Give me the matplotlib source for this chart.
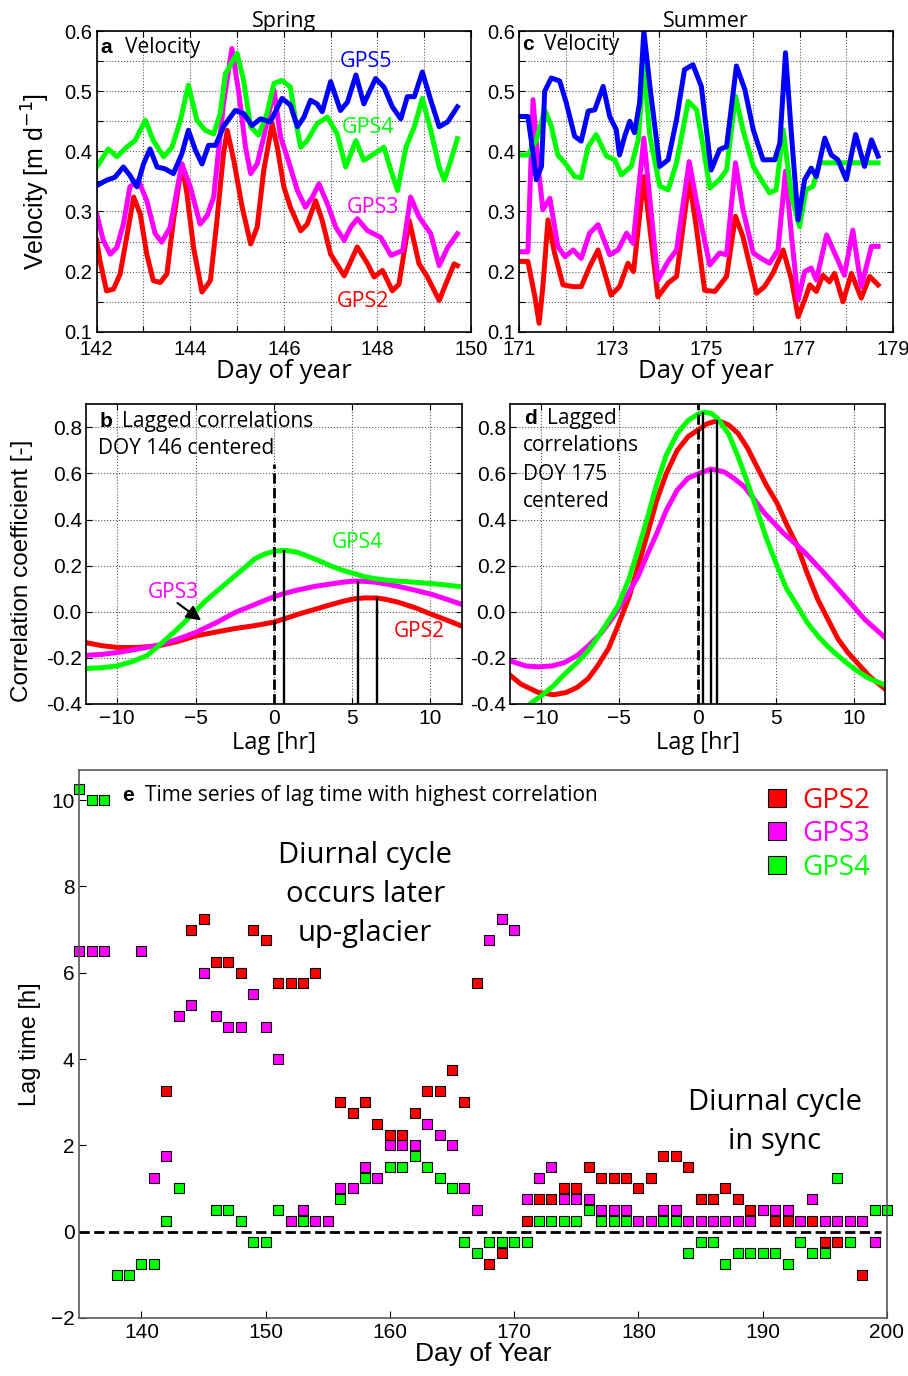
import numpy as np
import matplotlib.pyplot as plt
from matplotlib.ticker import MultipleLocator, FuncFormatter

RED, MAG, GRN, BLU = "#ff0000", "#ff00ff", "#00ff00", "#0000ff"
SANS = ["Liberation Sans", "DejaVu Sans"]
MYR = ["Open Sans", "DejaVu Sans"]

# ---- panel a: spring velocity (day, m/d) ----
a_day_gps2 = [142.0, 142.07, 142.21, 142.36, 142.5, 142.64, 142.79, 142.93, 143.07, 143.21, 143.36, 143.5,
              143.64, 143.82, 143.93, 144.07, 144.25, 144.43, 144.57, 144.71, 144.79, 144.93, 145.11, 145.29,
              145.43, 145.57, 145.75, 145.86, 146.0, 146.14, 146.36, 146.5, 146.68, 146.82, 147.0, 147.29,
              147.57, 147.79, 147.93, 148.11, 148.32, 148.46, 148.68, 148.89, 149.07, 149.32, 149.46, 149.64, 149.71]
a_vel_gps2 = [0.252, 0.218, 0.168, 0.171, 0.196, 0.257, 0.324, 0.296, 0.229, 0.185, 0.182, 0.196,
              0.285, 0.379, 0.329, 0.24, 0.166, 0.185, 0.285, 0.396, 0.435, 0.385, 0.307, 0.246,
              0.274, 0.368, 0.446, 0.407, 0.341, 0.307, 0.268, 0.279, 0.318, 0.285, 0.229, 0.193,
              0.241, 0.213, 0.191, 0.202, 0.168, 0.179, 0.285, 0.213, 0.191, 0.152, 0.179, 0.213, 0.21]
a_day_gps3 = [142.0, 142.14, 142.29, 142.43, 142.57, 142.71, 142.89, 143.07, 143.25, 143.39, 143.57, 143.82,
              144.0, 144.21, 144.36, 144.5, 144.71, 144.89, 145.04, 145.18, 145.29, 145.43, 145.57, 145.79,
              145.93, 146.07, 146.29, 146.46, 146.61, 146.75, 146.93, 147.11, 147.29, 147.43, 147.57, 147.79,
              148.07, 148.29, 148.54, 148.71, 148.89, 149.14, 149.32, 149.5, 149.71]
a_vel_gps3 = [0.296, 0.252, 0.229, 0.24, 0.279, 0.341, 0.352, 0.318, 0.263, 0.249, 0.274, 0.379,
              0.341, 0.279, 0.293, 0.324, 0.479, 0.571, 0.496, 0.407, 0.363, 0.379, 0.424, 0.502,
              0.424, 0.391, 0.335, 0.307, 0.324, 0.346, 0.313, 0.274, 0.252, 0.274, 0.288, 0.268,
              0.257, 0.227, 0.235, 0.324, 0.291, 0.263, 0.21, 0.24, 0.263]
a_day_gps4 = [142.0, 142.14, 142.25, 142.43, 142.64, 142.82, 143.04, 143.21, 143.43, 143.61, 143.79, 143.96,
              144.14, 144.32, 144.5, 144.64, 144.75, 145.0, 145.14, 145.29, 145.46, 145.64, 145.79, 145.96,
              146.14, 146.25, 146.36, 146.5, 146.71, 146.93, 147.14, 147.32, 147.54, 147.71, 147.93, 148.14,
              148.29, 148.43, 148.61, 148.79, 148.96, 149.14, 149.32, 149.43, 149.57, 149.71]
a_vel_gps4 = [0.374, 0.391, 0.404, 0.391, 0.407, 0.418, 0.452, 0.418, 0.391, 0.407, 0.452, 0.51,
              0.452, 0.435, 0.429, 0.463, 0.529, 0.563, 0.518, 0.441, 0.427, 0.463, 0.513, 0.518,
              0.507, 0.452, 0.407, 0.418, 0.446, 0.457, 0.429, 0.374, 0.418, 0.385, 0.396, 0.407,
              0.368, 0.335, 0.407, 0.441, 0.488, 0.435, 0.374, 0.352, 0.385, 0.421]
a_day_gps5 = [142.0, 142.21, 142.39, 142.57, 142.71, 142.86, 143.0, 143.14, 143.29, 143.46, 143.64, 143.82,
              143.96, 144.11, 144.25, 144.39, 144.54, 144.71, 144.96, 145.14, 145.32, 145.5, 145.71, 145.96,
              146.14, 146.29, 146.43, 146.57, 146.71, 146.82, 147.0, 147.21, 147.36, 147.54, 147.71, 147.96,
              148.14, 148.32, 148.5, 148.64, 148.79, 148.96, 149.14, 149.32, 149.5, 149.71]
a_vel_gps5 = [0.343, 0.352, 0.357, 0.374, 0.36, 0.341, 0.379, 0.404, 0.374, 0.371, 0.363, 0.396,
              0.435, 0.402, 0.379, 0.41, 0.41, 0.441, 0.468, 0.463, 0.443, 0.454, 0.449, 0.488,
              0.477, 0.441, 0.457, 0.485, 0.479, 0.466, 0.516, 0.468, 0.482, 0.527, 0.479, 0.521,
              0.507, 0.474, 0.454, 0.491, 0.491, 0.532, 0.485, 0.441, 0.449, 0.474]

# ---- panel c: summer velocity ----
c_day_gps2 = [171.0, 171.19, 171.34, 171.43, 171.51, 171.62, 171.76, 171.94, 172.16, 172.33, 172.51, 172.69,
              172.97, 173.15, 173.33, 173.45, 173.67, 173.97, 174.19, 174.37, 174.64, 174.79, 174.97, 175.19,
              175.44, 175.63, 175.79, 176.08, 176.25, 176.43, 176.65, 176.83, 176.97, 177.11, 177.22, 177.36,
              177.5, 177.64, 177.75, 177.93, 178.11, 178.32, 178.5, 178.68]
c_vel_gps2 = [0.217, 0.217, 0.158, 0.114, 0.175, 0.286, 0.231, 0.178, 0.175, 0.175, 0.208, 0.236,
              0.161, 0.175, 0.214, 0.2, 0.358, 0.158, 0.181, 0.192, 0.353, 0.275, 0.169, 0.167,
              0.192, 0.292, 0.258, 0.164, 0.175, 0.197, 0.236, 0.186, 0.125, 0.153, 0.178, 0.167,
              0.194, 0.183, 0.197, 0.15, 0.197, 0.156, 0.192, 0.178]
c_day_gps3 = [171.0, 171.19, 171.3, 171.41, 171.51, 171.66, 171.83, 171.98, 172.16, 172.33, 172.51, 172.69,
              172.94, 173.12, 173.3, 173.44, 173.67, 173.97, 174.19, 174.37, 174.64, 174.79, 175.08, 175.29,
              175.44, 175.63, 175.79, 176.01, 176.18, 176.36, 176.54, 176.7, 176.83, 176.97, 177.11, 177.25,
              177.36, 177.58, 177.75, 177.96, 178.14, 178.32, 178.54, 178.68]
c_vel_gps3 = [0.233, 0.233, 0.486, 0.375, 0.303, 0.322, 0.242, 0.225, 0.236, 0.222, 0.264, 0.278,
              0.228, 0.236, 0.264, 0.247, 0.422, 0.186, 0.217, 0.236, 0.383, 0.319, 0.211, 0.231,
              0.228, 0.381, 0.303, 0.231, 0.222, 0.214, 0.236, 0.367, 0.258, 0.153, 0.2, 0.206,
              0.186, 0.261, 0.231, 0.194, 0.269, 0.175, 0.242, 0.242]
c_day_gps4 = [171.0, 171.19, 171.37, 171.55, 171.69, 171.83, 172.01, 172.19, 172.33, 172.48, 172.65, 172.87,
              173.05, 173.19, 173.4, 173.55, 173.67, 173.8, 174.01, 174.19, 174.37, 174.62, 174.8, 174.94,
              175.08, 175.29, 175.44, 175.63, 175.79, 176.01, 176.18, 176.36, 176.5, 176.65, 176.83, 177.0,
              177.14, 177.29, 177.43, 177.58, 178.68]
c_vel_gps4 = [0.394, 0.394, 0.419, 0.469, 0.442, 0.394, 0.378, 0.358, 0.356, 0.408, 0.428, 0.392,
              0.386, 0.361, 0.375, 0.419, 0.544, 0.425, 0.342, 0.336, 0.381, 0.483, 0.469, 0.408,
              0.339, 0.353, 0.369, 0.492, 0.436, 0.375, 0.353, 0.331, 0.336, 0.436, 0.325, 0.275,
              0.336, 0.342, 0.381, 0.381, 0.381]
c_day_gps5 = [171.0, 171.19, 171.3, 171.37, 171.48, 171.55, 171.69, 171.87, 172.01, 172.19, 172.33, 172.48,
              172.62, 172.8, 172.94, 173.08, 173.15, 173.26, 173.37, 173.47, 173.58, 173.67, 173.8, 174.01,
              174.19, 174.37, 174.54, 174.72, 174.9, 175.11, 175.29, 175.44, 175.65, 175.83, 176.01, 176.22,
              176.47, 176.58, 176.7, 176.83, 176.97, 177.11, 177.25, 177.36, 177.54, 177.68, 177.82, 178.0,
              178.2, 178.39, 178.54, 178.68]
c_vel_gps5 = [0.458, 0.458, 0.397, 0.353, 0.375, 0.5, 0.522, 0.517, 0.481, 0.425, 0.417, 0.467,
              0.469, 0.508, 0.458, 0.436, 0.394, 0.425, 0.45, 0.431, 0.481, 0.6, 0.508, 0.375,
              0.386, 0.453, 0.536, 0.544, 0.508, 0.369, 0.403, 0.408, 0.542, 0.503, 0.436, 0.386,
              0.386, 0.414, 0.564, 0.425, 0.286, 0.353, 0.372, 0.358, 0.422, 0.394, 0.386, 0.353,
              0.428, 0.375, 0.419, 0.392]

# ---- panel b: lagged correlation, DOY 146 ----
b_lag_gps2 = [-12, -11, -10, -8.7, -7.4, -6.2, -5, -3.7, -2.5, -1.2, 0, 0.7, 1.5, 2.6, 3.7, 4.4, 5.1,
              5.8, 6.6, 7.2, 7.9, 9, 10.1, 11, 12]
b_r_gps2 = [-0.134, -0.147, -0.155, -0.155, -0.148, -0.13, -0.105, -0.088, -0.073, -0.06, -0.045, -0.03,
            -0.012, 0.01, 0.032, 0.045, 0.056, 0.06, 0.06, 0.053, 0.042, 0.018, -0.012, -0.035, -0.062]
b_lag_gps3 = [-12, -11, -10, -8.7, -7.4, -6.2, -5, -3.7, -2.5, -1.2, 0, 0.7, 1.5, 2.6, 3.7, 4.4, 5.1,
              5.8, 6.5, 7.2, 7.9, 9, 10.1, 11, 12]
b_r_gps3 = [-0.189, -0.185, -0.177, -0.162, -0.145, -0.12, -0.09, -0.048, -0.004, 0.032, 0.065, 0.08,
            0.094, 0.11, 0.121, 0.128, 0.133, 0.132, 0.128, 0.12, 0.111, 0.094, 0.075, 0.055, 0.032]
b_lag_gps4 = [-12, -11, -10, -9, -8.1, -7.4, -6.4, -5.7, -5, -4.4, -3.8, -3.1, -2.5, -1.8, -1.2, -0.6,
              0, 0.7, 1.5, 2.2, 3.0, 3.7, 4.4, 5.1, 5.8, 6.5, 7.2, 7.9, 9, 10.1, 11, 12]
b_r_gps4 = [-0.246, -0.243, -0.235, -0.215, -0.19, -0.15, -0.09, -0.045, 0.003, 0.045, 0.08, 0.12, 0.155,
            0.195, 0.23, 0.25, 0.262, 0.267, 0.258, 0.24, 0.218, 0.197, 0.18, 0.166, 0.152, 0.143, 0.137,
            0.133, 0.128, 0.122, 0.116, 0.108]
b_peak_lag = [6.62, 5.38, 0.68]   # GPS2, GPS3, GPS4
b_peak_r = [0.065, 0.133, 0.267]

# ---- panel d: lagged correlation, DOY 175 ----
d_lag_gps2 = [-12, -11.3, -10.2, -9.2, -8.4, -7.7, -7, -6.4, -5.7, -5.1, -4.4, -3.8, -3.2, -2.6, -2.0,
              -1.3, -0.6, 0, 0.6, 1.3, 2.0, 2.6, 3.2, 3.8, 4.4, 5.1, 5.7, 6.4, 7.0, 7.7, 8.4, 9.0, 9.6,
              10.2, 11, 12]
d_r_gps2 = [-0.275, -0.314, -0.35, -0.36, -0.35, -0.328, -0.29, -0.235, -0.16, -0.062, 0.06, 0.197, 0.34,
            0.485, 0.6, 0.70, 0.76, 0.787, 0.815, 0.83, 0.81, 0.773, 0.71, 0.629, 0.55, 0.47, 0.38, 0.283,
            0.17, 0.053, -0.04, -0.119, -0.175, -0.22, -0.28, -0.335]
d_lag_gps3 = [-12, -11, -10.2, -9.3, -8.5, -7.7, -7.0, -6.2, -5.5, -4.6, -3.8, -3.2, -2.6, -2.0, -1.3,
              -0.6, 0, 0.85, 1.7, 2.3, 3.0, 3.6, 4.3, 5.5, 6.8, 8.1, 9.4, 10.7, 12]
d_r_gps3 = [-0.213, -0.235, -0.239, -0.235, -0.22, -0.19, -0.148, -0.095, -0.033, 0.06, 0.154, 0.25, 0.341,
            0.44, 0.528, 0.58, 0.597, 0.619, 0.607, 0.58, 0.542, 0.49, 0.427, 0.341, 0.262, 0.168, 0.068,
            -0.033, -0.112]
d_lag_gps4 = [-12, -11, -10.66, -10, -9.2, -8.5, -7.7, -7, -6.4, -5.7, -5.1, -4.4, -3.8, -3.2, -2.6, -2.0,
              -1.3, -0.6, 0, 0.43, 0.9, 1.3, 2.0, 2.6, 3.2, 3.8, 4.4, 5.1, 5.7, 6.4, 7.0, 7.7, 8.4, 9.0,
              9.6, 10.2, 11, 12]
d_r_gps4 = [-0.5, -0.44, -0.396, -0.365, -0.32, -0.27, -0.22, -0.17, -0.112, -0.04, 0.024, 0.14, 0.27,
            0.41, 0.557, 0.68, 0.773, 0.83, 0.856, 0.866, 0.86, 0.837, 0.77, 0.672, 0.56, 0.442, 0.32,
            0.197, 0.1, 0.024, -0.045, -0.105, -0.155, -0.191, -0.225, -0.256, -0.29, -0.318]
d_peak_lag = [1.24, 0.85, 0.38]
d_peak_r = [0.83, 0.62, 0.866]

# ---- panel e: lag time of highest correlation ----
e_day_gps2 = [142, 144, 145, 146, 147, 148, 149, 150, 151, 152, 153, 154, 156, 157, 158, 159, 160, 161,
              162, 163, 164, 165, 166, 167, 168, 169, 171, 172, 173, 174, 175, 176, 177, 178, 179, 180,
              181, 182, 183, 184, 185, 186, 187, 188, 189, 191, 192, 194, 195, 196, 198]
e_lag_gps2 = [3.25, 7.0, 7.25, 6.25, 6.25, 6.0, 7.0, 6.75, 5.75, 5.75, 5.75, 6.0, 3.0, 2.75, 3.0, 2.5,
              2.25, 2.25, 2.75, 3.25, 3.25, 3.75, 3.0, 5.75, -0.75, -0.5, 0.25, 0.75, 0.75, 1.0, 1.0, 1.5,
              1.25, 1.25, 1.25, 1.0, 1.25, 1.75, 1.75, 1.5, 0.75, 0.75, 1.0, 0.75, 0.5, 0.25, 0.25, 0.25,
              -0.25, -0.25, -1.0]
e_day_gps3 = [135, 136, 137, 140, 141, 142, 143, 144, 145, 146, 147, 148, 149, 150, 151, 152, 153, 154,
              155, 156, 157, 158, 159, 160, 161, 162, 163, 164, 165, 166, 167, 168, 169, 170, 171, 172,
              173, 174, 175, 176, 177, 178, 179, 180, 181, 182, 183, 184, 185, 186, 187, 188, 189, 190,
              191, 192, 193, 194, 195, 196, 197, 198, 199]
e_lag_gps3 = [6.5, 6.5, 6.5, 6.5, 1.25, 1.75, 5.0, 5.25, 6.0, 5.0, 4.75, 4.75, 5.5, 4.75, 4.0, 0.25, 0.5,
              0.25, 0.25, 1.0, 1.0, 1.5, 1.25, 2.0, 2.0, 2.0, 2.5, 2.25, 2.0, 1.0, 0.5, 6.75, 7.25, 7.0,
              0.75, 1.25, 1.5, 0.75, 0.75, 0.75, 0.5, 0.5, 0.5, 0.25, 0.25, 0.5, 0.5, 0.25, 0.25, 0.25,
              0.25, 0.25, 0.25, 0.5, 0.5, 0.5, 0.25, 0.75, 0.25, 0.25, 0.25, 0.25, -0.25]
e_day_gps4 = [135, 136, 137, 138, 139, 140, 141, 142, 143, 146, 147, 148, 149, 150, 151, 153, 156, 158,
              160, 161, 162, 163, 164, 165, 166, 167, 168, 169, 170, 171, 172, 173, 174, 175, 176, 177,
              178, 179, 182, 183, 184, 185, 186, 187, 188, 189, 190, 191, 192, 193, 194, 195, 196, 197,
              199, 200]
e_lag_gps4 = [10.25, 10.0, 10.0, -1.0, -1.0, -0.75, -0.75, 0.25, 1.0, 0.5, 0.5, 0.25, -0.25, -0.25, 0.5,
              0.25, 0.75, 1.25, 1.5, 1.5, 1.75, 1.5, 1.25, 1.0, -0.25, -0.5, -0.25, -0.25, -0.25, -0.25,
              0.25, 0.25, 0.25, 0.25, 0.5, 0.25, 0.25, 0.25, 0.25, 0.25, -0.5, -0.25, -0.25, -0.75, -0.5,
              -0.5, -0.5, -0.5, -0.75, -0.25, -0.5, -0.5, 1.25, -0.25, 0.5, 0.5]

plt.rcParams["font.family"] = SANS
plt.rcParams["xtick.direction"] = "in"
plt.rcParams["ytick.direction"] = "in"
plt.rcParams["axes.linewidth"] = 1.2

fig = plt.figure(figsize=(9.08, 13.76), dpi=100)
ax_a = fig.add_axes([0.1065, 0.7589, 0.4122, 0.2185])
ax_c = fig.add_axes([0.5716, 0.7589, 0.4119, 0.2185])
ax_b = fig.add_axes([0.0947, 0.4884, 0.4138, 0.2178])
ax_d = fig.add_axes([0.5617, 0.4884, 0.4130, 0.2178])
ax_e = fig.add_axes([0.0873, 0.0422, 0.8895, 0.3983])

grid_kw = dict(color="0.35", linestyle=":", linewidth=0.8)
TXT = 15


def vel_axes(ax, x0):
    ax.set_xlim(x0, x0 + 8)
    ax.set_ylim(0.1, 0.6)
    ax.xaxis.set_major_locator(MultipleLocator(1))
    ax.yaxis.set_major_locator(MultipleLocator(0.05))
    ax.xaxis.set_major_formatter(FuncFormatter(
        lambda v, p: "%d" % round(v) if (round(v) - x0) % 2 == 0 else ""))
    ax.yaxis.set_major_formatter(FuncFormatter(
        lambda v, p: "%.1f" % v if abs(v * 10 - round(v * 10)) < 1e-6 else ""))
    ax.tick_params(labelsize=14.5, length=4, top=True, right=True)
    ax.tick_params(axis="x", pad=6)
    ax.tick_params(axis="y", pad=3)
    ax.grid(True, **grid_kw)
    ax.set_xlabel("Day of year", family=MYR, fontsize=18.5, labelpad=0)


lw = 3.6
ax_a.plot(a_day_gps2, a_vel_gps2, color=RED, lw=lw)
ax_a.plot(a_day_gps3, a_vel_gps3, color=MAG, lw=lw)
ax_a.plot(a_day_gps4, a_vel_gps4, color=GRN, lw=lw)
ax_a.plot(a_day_gps5, a_vel_gps5, color=BLU, lw=lw)
vel_axes(ax_a, 142)
ax_a.set_ylabel("Velocity [m d$^{-1}$]", fontsize=18)
ax_a.yaxis.set_label_coords(-0.12, 0.5)
ax_a.set_title("Spring", family=MYR, fontsize=15.5, pad=3)
ax_a.text(0.009, 0.947, "a", transform=ax_a.transAxes, fontsize=TXT, weight="bold", va="center")
ax_a.text(0.076, 0.947, "Velocity", transform=ax_a.transAxes, family=MYR, fontsize=TXT, va="center")
ax_a.text(147.75, 0.55, "GPS5", color=BLU, family=MYR, fontsize=15.5, ha="center", va="center")
ax_a.text(147.8, 0.44, "GPS4", color=GRN, family=MYR, fontsize=15.5, ha="center", va="center")
ax_a.text(147.9, 0.307, "GPS3", color=MAG, family=MYR, fontsize=15.5, ha="center", va="center")
ax_a.text(147.7, 0.15, "GPS2", color=RED, family=MYR, fontsize=15.5, ha="center", va="center")

ax_c.plot(c_day_gps2, c_vel_gps2, color=RED, lw=lw)
ax_c.plot(c_day_gps3, c_vel_gps3, color=MAG, lw=lw)
ax_c.plot(c_day_gps4, c_vel_gps4, color=GRN, lw=lw)
ax_c.plot(c_day_gps5, c_vel_gps5, color=BLU, lw=lw)
vel_axes(ax_c, 171)
ax_c.set_title("Summer", family=MYR, fontsize=15.5, pad=3)
ax_c.text(0.008, 0.957, "c", transform=ax_c.transAxes, fontsize=TXT, weight="bold", va="center")
ax_c.text(0.067, 0.957, "Velocity", transform=ax_c.transAxes, family=MYR, fontsize=TXT, va="center")


def lag_axes(ax):
    ax.set_xlim(-12, 12)
    ax.set_ylim(-0.4, 0.9)
    ax.set_xticks([-10, -5, 0, 5, 10])
    ax.set_yticks([-0.4, -0.2, 0.0, 0.2, 0.4, 0.6, 0.8])
    ax.yaxis.set_major_formatter(FuncFormatter(lambda v, p: "%.1f" % v))
    ax.tick_params(labelsize=15, length=4, top=True, right=True)
    ax.tick_params(axis="y", pad=3)
    ax.grid(True, **grid_kw)
    ax.set_xlabel("Lag [hr]", family=MYR, fontsize=17, labelpad=2)


ax_b.plot(b_lag_gps2, b_r_gps2, color=RED, lw=lw)
ax_b.plot(b_lag_gps3, b_r_gps3, color=MAG, lw=lw)
ax_b.plot(b_lag_gps4, b_r_gps4, color=GRN, lw=lw)
ax_b.vlines(0, -0.4, 0.64, colors="k", linestyles="--", lw=2)
ax_b.vlines(b_peak_lag, -0.4, b_peak_r, colors="k", lw=1.7)
lag_axes(ax_b)
ax_b.set_ylabel("Correlation coefficient [-]", fontsize=17.5)
ax_b.yaxis.set_label_coords(-0.14, 0.444)
ax_b.text(0.037, 0.944, "b", transform=ax_b.transAxes, fontsize=TXT, weight="bold", va="center")
ax_b.text(0.096, 0.944, "Lagged correlations", transform=ax_b.transAxes, family=MYR, fontsize=TXT,
          va="center")
ax_b.text(0.032, 0.851, "DOY 146 centered", transform=ax_b.transAxes, family=MYR, fontsize=TXT,
          va="center")
ax_b.text(5.34, 0.3, "GPS4", color=GRN, family=MYR, fontsize=15, ha="center", va="center")
ax_b.text(-6.45, 0.083, "GPS3", color=MAG, family=MYR, fontsize=15, ha="center", va="center")
ax_b.text(9.26, -0.085, "GPS2", color=RED, family=MYR, fontsize=15, ha="center", va="center")
ax_b.annotate("", xy=(-4.5, -0.045), xytext=(-6.3, 0.045),
              arrowprops=dict(arrowstyle="-|>", color="k", lw=1.5, mutation_scale=22))

ax_d.plot(d_lag_gps2, d_r_gps2, color=RED, lw=lw)
ax_d.plot(d_lag_gps3, d_r_gps3, color=MAG, lw=lw)
ax_d.plot(d_lag_gps4, d_r_gps4, color=GRN, lw=lw)
ax_d.vlines(0, -0.4, 0.9, colors="k", linestyles="--", lw=2)
ax_d.vlines(d_peak_lag, -0.4, d_peak_r, colors="k", lw=1.7)
lag_axes(ax_d)
ax_d.text(0.037, 0.951, "d", transform=ax_d.transAxes, fontsize=TXT, weight="bold", va="center")
ax_d.text(0.099, 0.951, "Lagged", transform=ax_d.transAxes, family=MYR, fontsize=TXT, va="center")
for yy, line in zip([0.861, 0.767, 0.677], ["correlations", "DOY 175", "centered"]):
    ax_d.text(0.035, yy, line, transform=ax_d.transAxes, family=MYR, fontsize=TXT, va="center")

mk = dict(marker="s", ls="none", ms=7.5, mec="k", mew=0.8, clip_on=False)
h4, = ax_e.plot(e_day_gps4, e_lag_gps4, mfc=GRN, label="GPS4", **mk)
h3, = ax_e.plot(e_day_gps3, e_lag_gps3, mfc=MAG, label="GPS3", **mk)
h2, = ax_e.plot(e_day_gps2, e_lag_gps2, mfc=RED, label="GPS2", **mk)
ax_e.hlines(0, 135, 199.5, colors="k", linestyles="--", lw=2, zorder=0.5)
ax_e.set_xlim(135, 200)
ax_e.set_ylim(-2, 10.7)
ax_e.set_xticks(range(140, 201, 10))
ax_e.set_yticks(range(-2, 11, 2))
ax_e.tick_params(labelsize=15, length=5)
for s in ax_e.spines.values():
    s.set_color("0.35")
ax_e.set_xlabel("Day of Year", fontsize=19, labelpad=0)
ax_e.set_ylabel("Lag time [h]", fontsize=17)
ax_e.yaxis.set_label_coords(-0.048, 0.5)
ax_e.text(0.053, 0.953, "e", transform=ax_e.transAxes, fontsize=TXT, weight="bold", va="center")
ax_e.text(0.081, 0.953, "Time series of lag time with highest correlation", transform=ax_e.transAxes,
          family=MYR, fontsize=TXT, va="center")
ax_e.text(0.354, 0.772, "Diurnal cycle\noccurs later\nup-glacier", transform=ax_e.transAxes,
          family=MYR, fontsize=21, ha="center", va="center", linespacing=1.45)
ax_e.text(0.861, 0.358, "Diurnal cycle\nin sync", transform=ax_e.transAxes,
          family=MYR, fontsize=21, ha="center", va="center", linespacing=1.45)
ax_e.legend(handles=[h2, h3, h4], loc="upper right", frameon=False, markerscale=1.7,
            labelcolor="markerfacecolor", prop={"family": MYR, "size": 20}, handlelength=0.8,
            handletextpad=0.5, labelspacing=0.2, borderaxespad=0.2)

fig.savefig("out.png", dpi=100)
